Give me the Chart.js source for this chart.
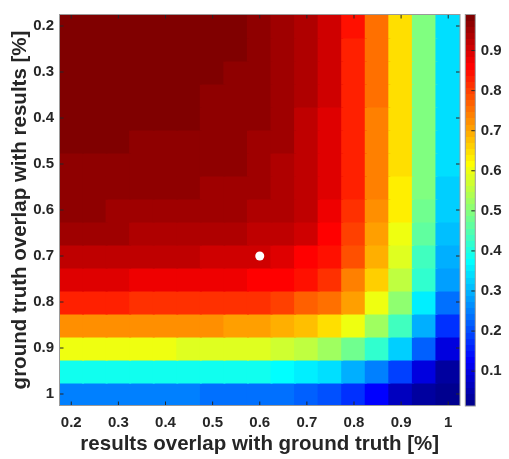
<!DOCTYPE html>
<html>
<head>
<meta charset="utf-8">
<script src="https://cdn.jsdelivr.net/npm/chart.js@4.4.1/dist/chart.umd.min.js"></script>
<style>
  html, body { margin: 0; padding: 0; background: #fff; }
  #wrap { position: relative; width: 509px; height: 459px; }
  #heat { position: absolute; left: 0; top: 0; }
  #cbar { position: absolute; left: 461px; top: 0; }
</style>
</head>
<body>
<div id="wrap">
  <canvas id="heat" width="509" height="459"></canvas>
  <canvas id="cbar" width="48" height="459"></canvas>
</div>
<script>
// grid of the image: cell centres on both axes
var xValues = [0.2, 0.25, 0.3, 0.35, 0.4, 0.45, 0.5, 0.55, 0.6, 0.65, 0.7, 0.75, 0.8, 0.85, 0.9, 0.95, 1];
var yValues = [0.2, 0.25, 0.3, 0.35, 0.4, 0.45, 0.5, 0.55, 0.6, 0.65, 0.7, 0.75, 0.8, 0.85, 0.9, 0.95, 1];
var axisTicks = [0.2, 0.3, 0.4, 0.5, 0.6, 0.7, 0.8, 0.9, 1];
var colorTicks = [0.1, 0.2, 0.3, 0.4, 0.5, 0.6, 0.7, 0.8, 0.9];
var colorMin = 0.013, colorMax = 0.99;
var marker = [{ x: 0.6, y: 0.7 }];

// one row per y value (top to bottom), one entry per x value
var zValues = [
  [0.982, 0.982, 0.982, 0.982, 0.982, 0.982, 0.982, 0.982, 0.967, 0.952, 0.936, 0.906, 0.845, 0.753, 0.647, 0.494, 0.342],
  [0.982, 0.982, 0.982, 0.982, 0.982, 0.982, 0.982, 0.982, 0.967, 0.952, 0.936, 0.906, 0.830, 0.753, 0.647, 0.494, 0.342],
  [0.982, 0.982, 0.982, 0.982, 0.982, 0.982, 0.982, 0.967, 0.967, 0.952, 0.936, 0.906, 0.830, 0.753, 0.647, 0.494, 0.342],
  [0.982, 0.982, 0.982, 0.982, 0.982, 0.982, 0.967, 0.967, 0.967, 0.952, 0.936, 0.906, 0.830, 0.753, 0.647, 0.494, 0.342],
  [0.982, 0.982, 0.982, 0.982, 0.982, 0.982, 0.967, 0.967, 0.967, 0.952, 0.921, 0.891, 0.830, 0.738, 0.647, 0.494, 0.342],
  [0.982, 0.982, 0.982, 0.967, 0.967, 0.967, 0.967, 0.967, 0.952, 0.952, 0.921, 0.891, 0.830, 0.738, 0.647, 0.494, 0.342],
  [0.967, 0.967, 0.967, 0.967, 0.967, 0.967, 0.967, 0.967, 0.952, 0.936, 0.921, 0.891, 0.830, 0.738, 0.647, 0.494, 0.342],
  [0.967, 0.967, 0.967, 0.967, 0.967, 0.967, 0.952, 0.952, 0.952, 0.936, 0.921, 0.891, 0.830, 0.738, 0.631, 0.494, 0.326],
  [0.967, 0.967, 0.952, 0.952, 0.952, 0.952, 0.952, 0.952, 0.936, 0.936, 0.921, 0.875, 0.814, 0.723, 0.631, 0.479, 0.326],
  [0.952, 0.952, 0.952, 0.936, 0.936, 0.936, 0.936, 0.936, 0.921, 0.921, 0.906, 0.860, 0.799, 0.708, 0.601, 0.464, 0.311],
  [0.921, 0.921, 0.921, 0.921, 0.921, 0.921, 0.906, 0.906, 0.906, 0.891, 0.860, 0.845, 0.784, 0.692, 0.586, 0.433, 0.296],
  [0.891, 0.891, 0.891, 0.875, 0.875, 0.875, 0.875, 0.875, 0.860, 0.860, 0.845, 0.814, 0.738, 0.662, 0.555, 0.418, 0.281],
  [0.830, 0.830, 0.830, 0.814, 0.814, 0.814, 0.814, 0.814, 0.814, 0.799, 0.769, 0.753, 0.708, 0.601, 0.509, 0.357, 0.235],
  [0.723, 0.723, 0.723, 0.723, 0.723, 0.723, 0.723, 0.708, 0.708, 0.692, 0.677, 0.647, 0.601, 0.525, 0.433, 0.296, 0.174],
  [0.601, 0.601, 0.601, 0.601, 0.601, 0.586, 0.586, 0.586, 0.586, 0.570, 0.555, 0.525, 0.479, 0.418, 0.326, 0.220, 0.098],
  [0.387, 0.387, 0.387, 0.387, 0.387, 0.387, 0.387, 0.387, 0.387, 0.372, 0.357, 0.342, 0.296, 0.250, 0.189, 0.098, 0.037],
  [0.250, 0.250, 0.250, 0.250, 0.250, 0.250, 0.235, 0.235, 0.235, 0.235, 0.220, 0.204, 0.174, 0.128, 0.067, 0.037, 0.021]
];

var ink = '#262626';
var tickFont = { family: "'Liberation Sans', Arial, sans-serif", size: 15, weight: 'bold' };
var titleFont = { family: "'Liberation Sans', Arial, sans-serif", size: 20.5, weight: 'bold' };

// matlab style jet colormap with 64 entries
function jetMap(m) {
    var n = Math.ceil(m / 4);
    var u = [], i;
    for (i = 1; i <= n; i++) u.push(i / n);
    for (i = 1; i < n; i++) u.push(1);
    for (i = n; i >= 1; i--) u.push(i / n);
    var g0 = Math.ceil(n / 2) - (m % 4 === 1 ? 1 : 0);
    var map = [];
    for (i = 0; i < m; i++) map.push([0, 0, 0]);
    u.forEach(function(val, k) {
        var g = g0 + k + 1, r = g + n, b = g - n;
        if (r >= 1 && r <= m) map[r - 1][0] = val;
        if (g >= 1 && g <= m) map[g - 1][1] = val;
        if (b >= 1 && b <= m) map[b - 1][2] = val;
    });
    return map.map(function(c) {
        return 'rgb(' + Math.round(c[0] * 255) + ',' + Math.round(c[1] * 255) + ',' + Math.round(c[2] * 255) + ')';
    });
}
var jet = jetMap(64);

function colorOf(v) {
    var idx = Math.floor((v - colorMin) / (colorMax - colorMin) * jet.length);
    return jet[Math.max(0, Math.min(jet.length - 1, idx))];
}

// inward tick marks and the grey box, like the original figure
var framePlugin = {
    id: 'frame',
    afterDatasetsDraw: function(chart, args, opts) {
        var ctx = chart.ctx, a = chart.chartArea, len = 4;
        ctx.save();
        ctx.lineWidth = 1;
        ctx.strokeStyle = ink;
        ctx.beginPath();
        Object.keys(chart.scales).forEach(function(id) {
            var s = chart.scales[id];
            if (!s.options.display) return;
            s.ticks.forEach(function(t) {
                var p = s.getPixelForValue(t.value);
                if (s.isHorizontal()) {
                    ctx.moveTo(p, a.bottom); ctx.lineTo(p, a.bottom - len);
                    ctx.moveTo(p, a.top); ctx.lineTo(p, a.top + len);
                } else {
                    if (opts.left) { ctx.moveTo(a.left, p); ctx.lineTo(a.left + len, p); }
                    ctx.moveTo(a.right, p); ctx.lineTo(a.right - len, p);
                }
            });
        });
        ctx.stroke();
        ctx.strokeStyle = '#9a9a9a';
        ctx.strokeRect(a.left, a.top, a.right - a.left, a.bottom - a.top);
        ctx.restore();
    }
};

var half = (xValues[1] - xValues[0]) / 2;
var datasets = zValues.map(function(row, j) {
    return {
        data: xValues.map(function(x) {
            return { x: x, y: [yValues[j] - half, yValues[j] + half] };
        }),
        backgroundColor: row.map(colorOf),
        borderWidth: 0,
        barPercentage: 1,
        categoryPercentage: 1,
        inflateAmount: 1,
        grouped: false
    };
});
datasets.push({
    type: 'scatter',
    data: marker,
    backgroundColor: '#ffffff',
    borderWidth: 0,
    pointRadius: 4.5,
    order: -1
});

new Chart(document.getElementById('heat'), {
    type: 'bar',
    data: { datasets: datasets },
    options: {
        responsive: false,
        animation: false,
        layout: { padding: { top: 6, right: 49, left: 0, bottom: 0 } },
        plugins: {
            legend: { display: false },
            tooltip: { enabled: false },
            frame: { left: true }
        },
        scales: {
            x: {
                type: 'linear',
                offset: false,
                min: xValues[0] - half,
                max: xValues[xValues.length - 1] + half,
                grid: { display: false, drawTicks: false, offset: false },
                border: { display: false },
                afterBuildTicks: function(s) { s.ticks = axisTicks.map(function(v) { return { value: v }; }); },
                afterFit: function(s) { s.height = 53.5; },
                ticks: {
                    padding: 8, font: tickFont, color: ink, maxRotation: 0, autoSkip: false,
                    callback: function(v) { return String(v); }
                },
                title: {
                    display: true, text: 'results overlap with ground truth [%]',
                    font: titleFont, color: ink, padding: { top: 0, bottom: 2 }
                }
            },
            y: {
                type: 'linear',
                reverse: true,
                offset: false,
                min: yValues[0] - half,
                max: yValues[yValues.length - 1] + half,
                grid: { display: false, drawTicks: false },
                border: { display: false },
                afterBuildTicks: function(s) { s.ticks = axisTicks.map(function(v) { return { value: v }; }); },
                afterFit: function(s) { s.width = 59.5; },
                ticks: {
                    padding: 5.5, font: tickFont, color: ink, autoSkip: false,
                    callback: function(v) { return String(v); }
                },
                title: {
                    display: true, text: 'ground truth overlap with results [%]',
                    font: titleFont, color: ink, padding: { top: 8, bottom: 0 }
                }
            }
        }
    },
    plugins: [framePlugin]
});

// colour bar: one bar from colorMin to colorMax, filled with the 64 jet bands
function barGradient(c) {
    var chart = c.chart, y = chart.scales.y;
    if (!y || !chart.chartArea) return 'transparent';
    var g = chart.ctx.createLinearGradient(0, y.getPixelForValue(colorMin), 0, y.getPixelForValue(colorMax));
    jet.forEach(function(col, k) {
        g.addColorStop(k / jet.length, col);
        g.addColorStop((k + 1) / jet.length, col);
    });
    return g;
}

new Chart(document.getElementById('cbar'), {
    type: 'bar',
    data: {
        labels: ['c'],
        datasets: [{
            data: [[colorMin, colorMax]],
            backgroundColor: barGradient,
            borderWidth: 0,
            barPercentage: 1,
            categoryPercentage: 1
        }]
    },
    options: {
        responsive: false,
        animation: false,
        layout: { padding: { top: 6, bottom: 53, left: 4.3, right: 0 } },
        plugins: {
            legend: { display: false },
            tooltip: { enabled: false },
            frame: { left: false }
        },
        scales: {
            x: { display: false },
            y: {
                position: 'right',
                min: colorMin,
                max: colorMax,
                grid: { display: false, drawTicks: false },
                border: { display: false },
                afterBuildTicks: function(s) { s.ticks = colorTicks.map(function(v) { return { value: v }; }); },
                afterFit: function(s) { s.width = 33.7; },
                ticks: {
                    padding: 5.5, font: tickFont, color: ink, autoSkip: false,
                    callback: function(v) { return String(v); }
                }
            }
        }
    },
    plugins: [framePlugin]
});
</script>
</body>
</html>
